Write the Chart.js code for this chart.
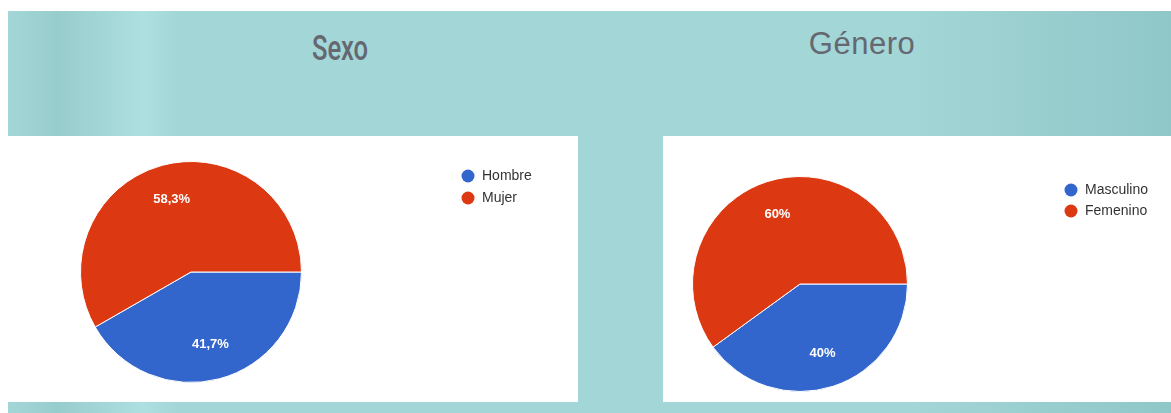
<!DOCTYPE html>
<html lang="es">
<head>
<meta charset="utf-8">
<title>Sexo y Género</title>
<script src="https://cdn.jsdelivr.net/npm/chart.js@4"></script>
<style>
  html, body { margin: 0; padding: 0; background: #fff; }
  body { width: 1171px; height: 413px; position: relative; overflow: hidden; }
  #bg {
    position: absolute; left: 8px; top: 11px; width: 1163px; height: 402px;
    background:
      linear-gradient(90deg,
        rgba(140,195,196,0) 0px, rgba(140,195,196,0.5) 50px, rgba(140,195,196,0) 95px,
        rgba(180,230,232,0.6) 135px, rgba(180,230,232,0) 170px,
        rgba(0,0,0,0) 900px, rgba(120,180,180,0.45) 1163px),
      #a3d6d7;
  }
  .title { position: absolute; color: #656870; text-align: center; }
  #t1 { left: 240px; top: 28px; width: 200px; font: 500 35px Roboto, sans-serif; transform: scaleX(0.73); }
  #t2 { left: 762px; top: 26px; width: 200px; font: 31px "Liberation Sans", Arial, sans-serif; letter-spacing: 0.5px; }
  .panel { position: absolute; top: 136px; height: 266px; background: #fff; }
  #p1 { left: 8px; width: 570px; }
  #p2 { left: 663px; width: 508px; }
  canvas { display: block; }
</style>
</head>
<body>
<div id="bg"></div>
<div class="title" id="t1">Sexo</div>
<div class="title" id="t2">Género</div>
<div class="panel" id="p1"><canvas id="sexo" width="570" height="266"></canvas></div>
<div class="panel" id="p2"><canvas id="genero" width="508" height="266"></canvas></div>

<script>
// data
const sexoLabels = ["Hombre", "Mujer"];
const sexoValues = [41.7, 58.3];
const sexoText = ["41,7%", "58,3%"];

const generoLabels = ["Masculino", "Femenino"];
const generoValues = [40, 60];
const generoText = ["40%", "60%"];

const colors = ["#3366cc", "#dc3912"];

// white percentage text inside each slice
const sliceLabels = {
  id: "sliceLabels",
  afterDatasetsDraw(chart, args, opts) {
    const ctx = chart.ctx;
    const meta = chart.getDatasetMeta(0);
    ctx.save();
    ctx.fillStyle = "#fff";
    ctx.font = "bold 13px 'Liberation Sans', Arial, sans-serif";
    ctx.textAlign = "center";
    ctx.textBaseline = "middle";
    meta.data.forEach((arc, i) => {
      const p = arc.getProps(["x", "y", "startAngle", "endAngle", "outerRadius"], true);
      const mid = (p.startAngle + p.endAngle) / 2;
      const r = p.outerRadius * 0.68;
      ctx.fillText(opts.texts[i], p.x + Math.cos(mid) * r, p.y + Math.sin(mid) * r);
    });
    ctx.restore();
  }
};

// google-style legend, dots + names
const dotLegend = {
  id: "dotLegend",
  afterDraw(chart, args, opts) {
    const ctx = chart.ctx;
    const ds = chart.data.datasets[0];
    ctx.save();
    ctx.font = "14px 'Liberation Sans', Arial, sans-serif";
    ctx.textBaseline = "middle";
    chart.data.labels.forEach((lab, i) => {
      const y = opts.y + i * opts.step;
      ctx.fillStyle = ds.backgroundColor[i];
      ctx.beginPath();
      ctx.arc(opts.x, y, 6.5, 0, Math.PI * 2);
      ctx.fill();
      ctx.fillStyle = "#333";
      ctx.fillText(lab, opts.x + 14, y);
    });
    ctx.restore();
  }
};

function makePie(id, labels, values, texts, pad, legendPos) {
  new Chart(document.getElementById(id), {
    type: "pie",
    data: {
      labels: labels,
      datasets: [{
        data: values,
        backgroundColor: colors,
        borderColor: "#fff",
        borderWidth: 1
      }]
    },
    options: {
      responsive: false,
      animation: false,
      devicePixelRatio: 1,
      rotation: 90,
      layout: { padding: pad },
      plugins: {
        legend: { display: false },
        tooltip: { enabled: false },
        sliceLabels: { texts: texts },
        dotLegend: legendPos
      }
    },
    plugins: [sliceLabels, dotLegend]
  });
}

makePie("sexo", sexoLabels, sexoValues, sexoText,
  { left: 72, top: 25, right: 276, bottom: 19 },
  { x: 460, y: 40, step: 22 });

makePie("genero", generoLabels, generoValues, generoText,
  { left: 28, top: 40, right: 262, bottom: 10 },
  { x: 408, y: 54, step: 21 });
</script>
</body>
</html>
